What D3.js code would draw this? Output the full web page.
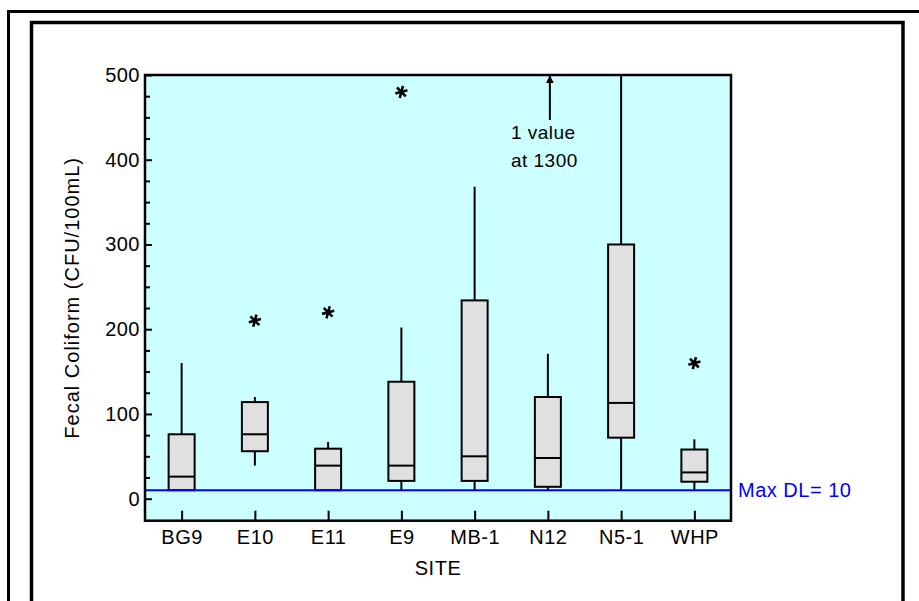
<!DOCTYPE html>
<html>
<head>
<meta charset="utf-8">
<script src="https://cdn.jsdelivr.net/npm/d3@7"></script>
<style>
  body { margin: 0; background: #fff; }
  text { font-family: "Liberation Sans", Arial, sans-serif; letter-spacing: 0.5px; }
</style>
</head>
<body>
<div id="chart"></div>
<script>
// box plot data
const sites     = ["BG9", "E10", "E11", "E9", "MB-1", "N12", "N5-1", "WHP"]
const whiskerLo = [10, 39, 10, 10, 10, 10, 10, 10]
const q1        = [10, 56, 10, 21, 21, 14, 72, 20]
const median    = [26, 76, 39, 39, 50, 48, 113, 31]
const q3        = [76, 114, 59, 138, 234, 120, 300, 58]
const whiskerHi = [160, 120, 67, 202, 368, 171, 540, 70]
const outlierSite  = ["E10", "E11", "E9", "WHP"]
const outlierValue = [210, 220, 480, 160]
const offScaleSite  = ["N12"]
const offScaleValue = [1300]
const maxDL = 10
const yTicks = [0, 100, 200, 300, 400, 500]

const width = 919
const height = 601
const margin = {top: 75, right: 188, bottom: 80, left: 145}

const svg = d3.select("#chart")
  .append("svg")
    .attr("width", width)
    .attr("height", height)

// the two frames round the page
svg.append("rect")
  .attr("x", 8.5).attr("y", 11.5)
  .attr("width", 930).attr("height", 620)
  .attr("fill", "none").attr("stroke", "#000").attr("stroke-width", 3)
svg.append("rect")
  .attr("x", 31.5).attr("y", 22.5)
  .attr("width", 871.5).attr("height", 620)
  .attr("fill", "none").attr("stroke", "#000").attr("stroke-width", 3.5)

const x = d3.scalePoint()
  .domain(sites)
  .range([margin.left, width - margin.right])
  .padding(0.5)

const y = d3.scaleLinear()
  .domain([-26, 500])
  .range([height - margin.bottom - 0.3, margin.top])

const plotW = width - margin.right - margin.left
const plotTop = y(500), plotBottom = y(-26)

svg.append("clipPath").attr("id", "clip")
  .append("rect")
    .attr("x", margin.left).attr("y", plotTop)
    .attr("width", plotW).attr("height", plotBottom - plotTop)

svg.append("rect")
  .attr("x", margin.left).attr("y", plotTop)
  .attr("width", plotW).attr("height", plotBottom - plotTop)
  .attr("fill", "#ccffff")

const data = sites.map((s, i) => ({
  site: s, lo: whiskerLo[i], q1: q1[i], med: median[i], q3: q3[i], hi: whiskerHi[i]
}))

const boxW = 26
const g = svg.append("g").attr("clip-path", "url(#clip)")

// whiskers
g.selectAll("line.whisker")
  .data(data)
  .join("line")
    .attr("class", "whisker")
    .attr("x1", d => x(d.site)).attr("x2", d => x(d.site))
    .attr("y1", d => y(d.lo)).attr("y2", d => y(d.hi))
    .attr("stroke", "#000").attr("stroke-width", 2)

// boxes
g.selectAll("rect.box")
  .data(data)
  .join("rect")
    .attr("class", "box")
    .attr("x", d => x(d.site) - boxW / 2)
    .attr("y", d => y(d.q3))
    .attr("width", boxW)
    .attr("height", d => y(d.q1) - y(d.q3))
    .attr("fill", "#e0e0e0")
    .attr("stroke", "#000").attr("stroke-width", 2)

// medians
g.selectAll("line.median")
  .data(data)
  .join("line")
    .attr("x1", d => x(d.site) - boxW / 2).attr("x2", d => x(d.site) + boxW / 2)
    .attr("y1", d => y(d.med)).attr("y2", d => y(d.med))
    .attr("stroke", "#000").attr("stroke-width", 2)

// outliers
g.selectAll("path.outlier")
  .data(outlierSite.map((s, i) => ({site: s, value: outlierValue[i]})))
  .join("path")
    .attr("transform", d => `translate(${x(d.site)},${y(d.value)}) rotate(15)`)
    .attr("d", d3.symbol(d3.symbolAsterisk, 110))
    .attr("fill", "none")
    .attr("stroke", "#000").attr("stroke-width", 2.6)

// max detection limit line
svg.append("line")
  .attr("x1", margin.left).attr("x2", width - margin.right)
  .attr("y1", y(maxDL)).attr("y2", y(maxDL))
  .attr("stroke", "#0000ff").attr("stroke-width", 2)
svg.append("text")
  .attr("x", width - margin.right + 7)
  .attr("y", y(maxDL))
  .attr("dy", "0.35em")
  .attr("fill", "#0000ff")
  .style("font-size", "20px")
  .text("Max DL= " + maxDL)

// off-scale value: arrow + note
svg.append("defs").append("marker")
  .attr("id", "arrow")
  .attr("viewBox", "0 0 10 10")
  .attr("refX", 9).attr("refY", 5)
  .attr("markerWidth", 4).attr("markerHeight", 5)
  .attr("orient", "auto")
  .append("path").attr("d", "M0,0L10,5L0,10Z").attr("fill", "#000")

offScaleSite.forEach((s, i) => {
  svg.append("line")
    .attr("x1", x(s) + 2).attr("x2", x(s) + 2)
    .attr("y1", y(447)).attr("y2", y(500) + 1)
    .attr("stroke", "#000").attr("stroke-width", 2)
    .attr("marker-end", "url(#arrow)")
  const t = svg.append("text")
    .style("font-size", "19px")
  t.append("tspan").attr("x", x(s) - 37).attr("y", y(424)).text("1 value")
  t.append("tspan").attr("x", x(s) - 37).attr("y", y(392)).text("at " + offScaleValue[i])
})

// axes
const yAxis = svg.append("g")
  .attr("transform", `translate(${margin.left},0)`)
  .call(d3.axisLeft(y).tickValues(yTicks).tickSize(-7).tickSizeOuter(0).tickPadding(5))
yAxis.select(".domain").remove()
yAxis.selectAll("text").style("font-size", "20px").attr("fill", "#000")
yAxis.selectAll("line").attr("stroke-width", 2)

const yMinor = svg.append("g")
  .attr("transform", `translate(${margin.left},0)`)
  .call(d3.axisLeft(y).tickValues(d3.range(25, 500, 25).filter(v => v % 100)).tickSize(-5).tickFormat(""))
yMinor.select(".domain").remove()
yMinor.selectAll("line").attr("stroke-width", 2)

const xAxis = svg.append("g")
  .attr("transform", `translate(0,${plotBottom})`)
  .call(d3.axisBottom(x).tickSize(-10).tickSizeOuter(0).tickPadding(9))
xAxis.select(".domain").remove()
xAxis.selectAll("text").style("font-size", "20px").attr("fill", "#000")
xAxis.selectAll("line").attr("stroke-width", 2)

// plot border
svg.append("rect")
  .attr("x", margin.left).attr("y", plotTop)
  .attr("width", plotW).attr("height", plotBottom - plotTop)
  .attr("fill", "none").attr("stroke", "#000").attr("stroke-width", 2.5)

// axis titles
svg.append("text")
  .attr("x", margin.left + plotW / 2)
  .attr("y", 575)
  .attr("text-anchor", "middle")
  .style("font-size", "20px")
  .text("SITE")

svg.append("text")
  .attr("transform", `translate(79,${(plotTop + plotBottom) / 2}) rotate(-90)`)
  .attr("text-anchor", "middle")
  .style("font-size", "20px")
  .style("letter-spacing", "1px")
  .text("Fecal Coliform (CFU/100mL)")
</script>
</body>
</html>
